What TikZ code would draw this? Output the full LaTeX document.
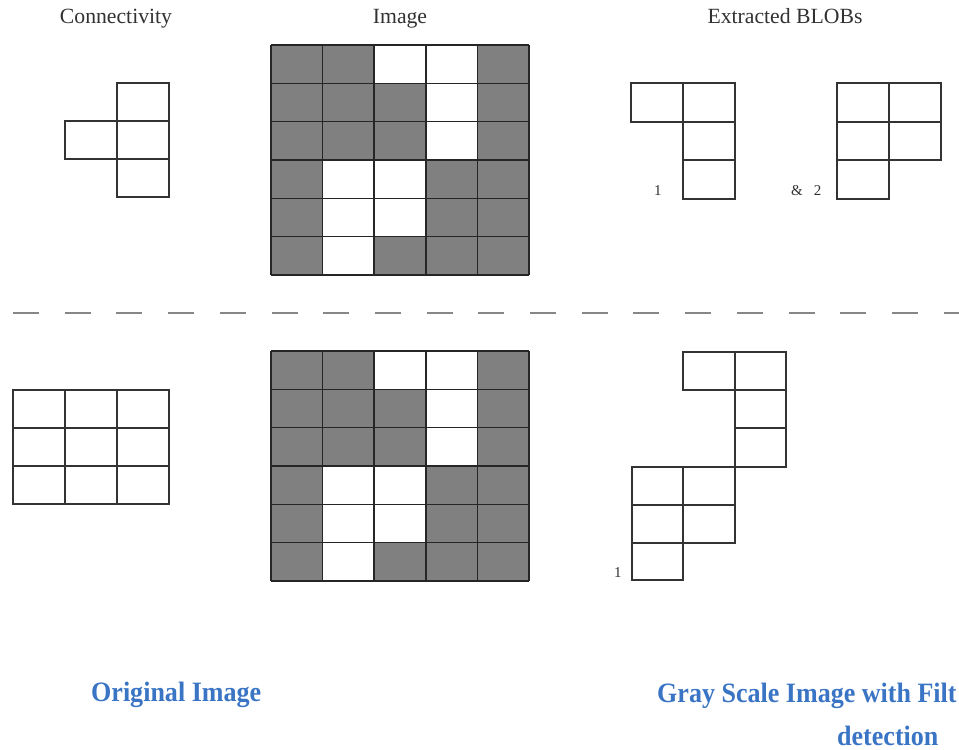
\documentclass[tikz,border=0pt]{standalone}
\usepackage{fontspec}
\setmainfont{Liberation Serif}
\definecolor{cellgray}{RGB}{128,128,128}
\definecolor{capblue}{RGB}{58,116,196}
\definecolor{titlegray}{RGB}{50,50,50}
\definecolor{dashgray}{RGB}{135,135,135}
\tikzset{
  gridline/.style={draw=black!85,line width=1.6pt},
  cellbox/.style={draw=black!80,line width=1.6pt},
  title/.style={anchor=base,inner sep=0pt,text=titlegray,font=\fontsize{21.7}{24}\selectfont},
  smalllab/.style={anchor=base west,inner sep=0pt,text=titlegray,font=\fontsize{15}{17}\selectfont},
  caption/.style={anchor=base west,inner sep=0pt,text=capblue,xscale=0.93,transform shape,font=\fontsize{28}{30}\selectfont\bfseries},
  sepline/.style={draw=dashgray,line width=2.5pt,dash pattern=on 26pt off 25.7pt}
}
\newcommand\blobimage[2]{%
  \begin{scope}[shift={(#1,#2)}]
    \foreach \r/\c in {0/0,0/1,0/4,1/0,1/1,1/2,1/4,2/0,2/1,2/2,2/4,3/0,3/3,3/4,4/0,4/3,4/4,5/0,5/2,5/3,5/4}
      \fill[cellgray] (\c*51.6,\r*38.33) rectangle ++(51.6,38.33);
    \foreach \i in {0,...,5} \draw[gridline] (\i*51.6,0) -- (\i*51.6,230);
    \foreach \j in {0,...,6} \draw[gridline] (0,\j*38.33) -- (258,\j*38.33);
  \end{scope}}
\begin{document}
\begin{tikzpicture}[x=1pt,y=-1pt]
\useasboundingbox (0,0) rectangle (959,750);
\fill[white] (0,0) rectangle (959,750);

% titles
\node[title] (tconn) at (116,23) {Connectivity};
\node[title] (timg) at (400,23) {Image};
\node[title] (tblob) at (785,23) {Extracted BLOBs};

% connectivity (top)
\draw[cellbox] (117,83) rectangle (169,121);
\draw[cellbox] (65,121) rectangle (117,159);
\draw[cellbox] (117,121) rectangle (169,159);
\draw[cellbox] (117,159) rectangle (169,197);

% images
\blobimage{271}{45}
\blobimage{271}{351}

% extracted blobs (top)
\draw[cellbox] (631,83) rectangle (683,122);
\draw[cellbox] (683,83) rectangle (735,122);
\draw[cellbox] (683,122) rectangle (735,160);
\draw[cellbox] (683,160) rectangle (735,199);
\node[smalllab] (lone) at (654,195) {1};

\draw[cellbox] (837,83) rectangle (889,122);
\draw[cellbox] (889,83) rectangle (941,122);
\draw[cellbox] (837,122) rectangle (889,160);
\draw[cellbox] (889,122) rectangle (941,160);
\draw[cellbox] (837,160) rectangle (889,199);
\node[smalllab] (ltwo) at (791,195) {\&\hspace{11pt}2};

% separator
\coordinate (sepL) at (13,313);
\coordinate (sepR) at (959,313);
\draw[sepline] (sepL) -- (sepR);

% connectivity (bottom)
\foreach \c in {0,1,2}
  \foreach \r in {0,1,2}
    \draw[cellbox] (13+\c*52,390+\r*38) rectangle ++(52,38);

% extracted blob (bottom)
\draw[cellbox] (683,352) rectangle (735,390);
\draw[cellbox] (735,352) rectangle (786,390);
\draw[cellbox] (735,390) rectangle (786,428);
\draw[cellbox] (735,428) rectangle (786,467);
\draw[cellbox] (632,467) rectangle (683,505);
\draw[cellbox] (683,467) rectangle (735,505);
\draw[cellbox] (632,505) rectangle (683,543);
\draw[cellbox] (683,505) rectangle (735,543);
\draw[cellbox] (632,543) rectangle (683,580);
\node[smalllab] (lthree) at (614,577) {1};

% captions
\node[caption] (corig) at (91,701) {Original Image};
\node[caption] (cgray) at (657,702) {Gray Scale Image with Filt};
\node[caption] (cdet) at (837,745) {detection};
\end{tikzpicture}
\end{document}
